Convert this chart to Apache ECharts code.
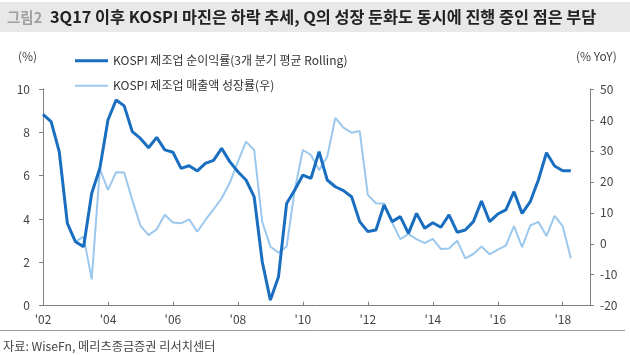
<!DOCTYPE html>
<html><head><meta charset="utf-8">
<script src="https://cdn.jsdelivr.net/npm/echarts@6/dist/echarts.min.js"></script>
<style>html,body{margin:0;padding:0;background:#fff}#c{width:630px;height:355px}</style>
</head><body><div id="c"></div>
<script>
const titleTag = '그림2';
const titleText = '3Q17 이후 KOSPI 마진은 하락 추세, Q의 성장 둔화도 동시에 진행 중인 점은 부담';
const sourceText = '자료: WiseFn, 메리츠종금증권 리서치센터';
const leftUnit = '(%)';
const rightUnit = '(% YoY)';
const seriesNames = ['KOSPI 제조업 순이익률(3개 분기 평균 Rolling)', 'KOSPI 제조업 매출액 성장률(우)'];

// quarters 2002Q1 .. 2018Q2
const quarters = [];
for (let y = 2002; y <= 2018; y++) for (let q = 1; q <= 4; q++) if (!(y === 2018 && q > 2)) quarters.push(y + 'Q' + q);

// KOSPI manufacturing net margin (%), 3-quarter rolling average (left axis)
const netMargin = [
  8.83, 8.49, 7.11, 3.80, 2.95, 2.72, 5.19, 6.34,
  8.57, 9.49, 9.22, 8.03, 7.72, 7.29, 7.77, 7.19,
  7.08, 6.34, 6.46, 6.22, 6.57, 6.71, 7.26, 6.65,
  6.18, 5.80, 5.03, 2.03, 0.26, 1.34, 4.72, 5.34,
  6.03, 5.88, 7.11, 5.80, 5.49, 5.31, 5.03, 3.88,
  3.42, 3.49, 4.65, 3.88, 4.11, 3.34, 4.26, 3.57,
  3.83, 3.62, 4.19, 3.39, 3.49, 3.88, 4.83, 3.88,
  4.23, 4.42, 5.26, 4.26, 4.80, 5.80, 7.06, 6.45,
  6.23, 6.23
];
// KOSPI manufacturing sales growth (% YoY, right axis)
const salesGrowth = [
  null, null, null, null, 0.7, 2.3, -11.5, 24.1,
  17.4, 23.1, 23.0, 14.1, 5.9, 2.8, 4.7, 9.4,
  6.9, 6.6, 7.9, 3.9, 7.7, 11.1, 14.7, 19.7,
  26.5, 33.0, 30.3, 7.1, -0.9, -2.9, -0.9, 17.4,
  30.3, 28.7, 23.8, 28.1, 40.7, 37.5, 35.9, 36.4,
  15.8, 13.1, 13.0, 6.8, 1.5, 3.1, 1.5, 0.2,
  1.6, -1.7, -1.5, 1.0, -4.7, -3.3, -0.9, -3.4,
  -1.9, -0.6, 5.7, -1.1, 5.9, 7.1, 2.5, 9.0,
  5.7, -4.7
];
const xTickYears = [2002, 2004, 2006, 2008, 2010, 2012, 2014, 2016, 2018];
const xTickLabels = ["'02", "'04", "'06", "'08", "'10", "'12", "'14", "'16", "'18"];

function qx(q) { const p = q.split('Q'); return Number(p[0]) + (Number(p[1]) - 1) / 4; }
const FONT = "'Noto Sans CJK KR', 'Noto Sans', sans-serif";
const DARK = '#1a6ec0', LIGHT = '#9cc8ee';

function legendFor(name, color, h, centerY) {
  return {
    orient: 'vertical', left: 70, top: centerY - 8,
    height: 16, itemWidth: 33, itemHeight: h, icon: 'rect',
    textStyle: { fontSize: 12, color: '#333', fontFamily: FONT, lineHeight: 16 },
    itemStyle: { color: color },
    data: [name]
  };
}

const chart = echarts.init(document.getElementById('c'), null, { renderer: 'canvas' });
chart.setOption({
  animation: false,
  backgroundColor: '#fff',
  textStyle: { fontFamily: FONT },
  grid: { left: 43, right: 40, top: 89, bottom: 49.3 },
  legend: [
    legendFor(seriesNames[0], DARK, 3, 55.7),
    legendFor(seriesNames[1], LIGHT, 2, 80.7)
  ],
  xAxis: {
    type: 'value', min: 2002, max: 2018.84, interval: 2,
    axisLine: { lineStyle: { color: '#808080' } },
    axisTick: { inside: true, length: 4, lineStyle: { color: '#808080' } },
    splitLine: { show: false },
    axisLabel: {
      margin: 8, fontSize: 12, color: '#444', fontFamily: FONT,
      formatter: v => { const i = xTickYears.indexOf(Math.round(v * 100) / 100); return i >= 0 ? xTickLabels[i] : ''; }
    }
  },
  yAxis: [
    {
      type: 'value', min: 0, max: 10, interval: 2, position: 'left',
      axisLine: { show: true, lineStyle: { color: '#808080' } },
      axisTick: { show: true, length: 4, lineStyle: { color: '#808080' } },
      splitLine: { show: false },
      axisLabel: { margin: 13, fontSize: 12, color: '#444', fontFamily: FONT }
    },
    {
      type: 'value', min: -20, max: 50, interval: 10, position: 'right',
      axisLine: { show: true, lineStyle: { color: '#808080' } },
      axisTick: { show: true, length: 4, lineStyle: { color: '#808080' } },
      splitLine: { show: false },
      axisLabel: { margin: 10, fontSize: 12, color: '#444', fontFamily: FONT }
    }
  ],
  series: [
    {
      name: seriesNames[0], type: 'line', yAxisIndex: 0, z: 3,
      symbol: 'none', showSymbol: false,
      lineStyle: { width: 3, color: DARK }, itemStyle: { color: DARK },
      data: quarters.map((q, i) => [qx(q), netMargin[i]])
    },
    {
      name: seriesNames[1], type: 'line', yAxisIndex: 1, z: 2,
      symbol: 'none', showSymbol: false,
      lineStyle: { width: 2, color: LIGHT }, itemStyle: { color: LIGHT },
      data: quarters.map((q, i) => [qx(q), salesGrowth[i]])
    }
  ],
  graphic: [
    { type: 'rect', left: 0, top: 2, shape: { width: 630, height: 30 }, style: { fill: '#e8e8e8' }, silent: true },
    { type: 'text', x: 7, y: 17, style: { text: titleTag, fontSize: 14.5, fontWeight: 'bold', fill: '#a0a0a0', fontFamily: FONT, verticalAlign: 'middle' }, silent: true },
    { type: 'text', x: 50, y: 17, style: { text: titleText, fontSize: 16.3, fontWeight: 'bold', fill: '#222', fontFamily: FONT, verticalAlign: 'middle' }, silent: true },
    { type: 'text', x: 18, y: 56, style: { text: leftUnit, fontSize: 12, fill: '#444', fontFamily: FONT, verticalAlign: 'middle' } },
    { type: 'text', x: 576, y: 56, style: { text: rightUnit, fontSize: 12, fill: '#444', fontFamily: FONT, verticalAlign: 'middle' } },
    { type: 'line', shape: { x1: 0, y1: 330.5, x2: 625, y2: 330.5 }, style: { stroke: '#999', lineWidth: 1 } },
    { type: 'text', x: 3, y: 346, style: { text: sourceText, fontSize: 12.2, fill: '#444', fontFamily: FONT, verticalAlign: 'middle' } }
  ]
});
</script>
</body></html>
